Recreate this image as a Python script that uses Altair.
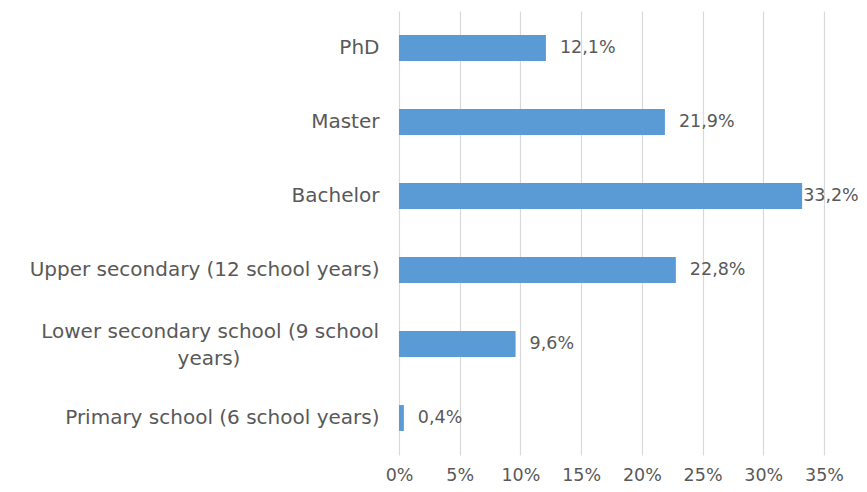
import altair as alt
import pandas as pd

categories = [
    "PhD",
    "Master",
    "Bachelor",
    "Upper secondary (12 school years)",
    "Lower secondary school (9 school years)",
    "Primary school (6 school years)",
]
line1 = ["Lower secondary school (9 school"]
line2 = ["years)"]
values = [12.1, 21.9, 33.2, 22.8, 9.6, 0.4]
x_ticks = [0, 5, 10, 15, 20, 25, 30, 35]

df = pd.DataFrame({"category": categories, "value": values})
wrapped = "Lower secondary school (9 school years)"
df_l1 = pd.DataFrame({"category": [wrapped], "t": line1})
df_l2 = pd.DataFrame({"category": [wrapped], "t": line2})

FONT = "DejaVu Sans"
GRAY = "#595959"
YFS = 20
VFS = 17.5

y_sort = alt.Y("category:N", sort=categories)

y_enc = alt.Y(
    "category:N",
    sort=categories,
    scale=alt.Scale(paddingInner=0.65, paddingOuter=0.325),
    axis=alt.Axis(
        title=None,
        domain=False,
        ticks=False,
        grid=False,
        labelPadding=20,
        labelFont=FONT,
        labelFontSize=YFS,
        labelColor=GRAY,
        labelLimit=400,
        labelExpr=f"datum.label == '{wrapped}' ? '' : datum.label",
    ),
)

x_enc = alt.X(
    "value:Q",
    scale=alt.Scale(domain=[0, 35], nice=False),
    axis=alt.Axis(
        title=None,
        values=x_ticks,
        domain=False,
        ticks=False,
        grid=True,
        gridColor="#d9d9d9",
        gridWidth=1.2,
        labelFont=FONT,
        labelFontSize=VFS,
        labelColor=GRAY,
        labelPadding=11,
        labelOverlap=False,
        labelFlush=False,
        labelExpr="datum.value + '%'",
    ),
)

bars = alt.Chart(df).mark_bar(color="#5B9BD5").encode(y=y_enc, x=x_enc)

lbl_expr = "replace(format(datum.value, '.1f'), '.', ',') + '%'"

text_main = (
    alt.Chart(df)
    .transform_filter("datum.value < 30")
    .transform_calculate(lbl=lbl_expr)
    .mark_text(align="left", baseline="middle", dx=14, font=FONT, fontSize=VFS, color=GRAY)
    .encode(y=y_sort, x="value:Q", text="lbl:N")
)

text_edge = (
    alt.Chart(df)
    .transform_filter("datum.value >= 30")
    .transform_calculate(lbl=lbl_expr)
    .mark_text(align="left", baseline="middle", dx=1, font=FONT, fontSize=VFS, color=GRAY)
    .encode(y=y_sort, x="value:Q", text="lbl:N")
)

wrap1 = (
    alt.Chart(df_l1)
    .mark_text(align="right", baseline="middle", dy=-12, font=FONT, fontSize=YFS, color=GRAY)
    .encode(y=y_sort, x=alt.value(-20), text="t:N")
)

wrap2 = (
    alt.Chart(df_l2)
    .mark_text(align="center", baseline="middle", dy=15, font=FONT, fontSize=YFS, color=GRAY)
    .encode(y=y_sort, x=alt.value(-190), text="t:N")
)

chart = (
    alt.layer(bars, text_main, text_edge, wrap1, wrap2)
    .properties(
        width=425,
        height=444,
        background="white",
        autosize=alt.AutoSizeParams(type="none"),
        padding={"left": 391, "top": 3, "right": 35, "bottom": 29},
    )
    .configure_view(stroke=None, strokeWidth=0)
)

chart.save("out.html", embed_options={"renderer": "svg", "actions": False})
